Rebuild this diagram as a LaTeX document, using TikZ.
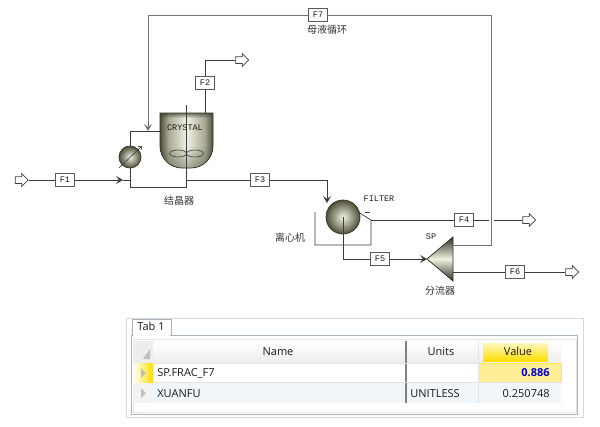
\documentclass[tikz,border=0pt]{standalone}
\usepackage{xcolor}
\usepackage{fontspec}
\setmonofont{Liberation Mono}
\setsansfont{Open Sans}
\newfontfamily\cjk{Noto Sans CJK SC}
\usetikzlibrary{arrows.meta, positioning, shapes.arrows, fadings}
\definecolor{linegray}{HTML}{3C3C3C}
\definecolor{steel}{HTML}{4E4E3A}
\definecolor{cream}{HTML}{F2F2E2}
\definecolor{framegray}{HTML}{A9B4BE}
\definecolor{rowblue}{HTML}{F1F6FA}
\definecolor{headgray}{HTML}{EDEDED}
\definecolor{goldtop}{HTML}{FFF8C0}
\definecolor{goldlow}{HTML}{FFDE00}
\definecolor{goldcell}{HTML}{FFEE96}
\pgfdeclarehorizontalshading{vessel}{100bp}{color(0bp)=(steel); color(25bp)=(steel); color(33bp)=(steel!45!cream); color(50bp)=(cream); color(67bp)=(steel!45!cream); color(75bp)=(steel); color(100bp)=(steel)}
\begin{document}
\begin{tikzpicture}[
x=1pt, y=-1pt,
line width=0.75pt,
>={Stealth[length=7pt,width=8pt,inset=3pt]},
tag/.style={
draw=black!65,
fill=white,
font=\ttfamily\fontsize{8.5}{9}\selectfont,
text=black!90,
minimum width=19pt,
minimum height=13pt,
inner sep=0pt
},
port/.style={
draw=black!75,
fill=white,
single arrow,
minimum height=13pt,
single arrow head extend=3pt,
inner xsep=1pt,
inner ysep=3pt
},
ball/.style={
circle,
draw=steel!70!black,
inner color=cream,
outer color=steel,
inner sep=0pt
},
stream/.style={draw=linegray},
recycle/.style={draw=black!55, line width=1pt},
unitname/.style={font=\ttfamily\fontsize{8.5}{9}\selectfont, text=black!90},
hanzi/.style={font=\cjk\fontsize{10}{12}\selectfont, text=black!80},
cell/.style={font=\sffamily\fontsize{11}{13}\selectfont, text=black!90, inner sep=0pt}
]

\useasboundingbox (0,0) rectangle (600,426);

\node[port] (feed) at (20,180) {};

\node[tag] (F1) at (65,180) {F1};

\node[tag] (F2) at (205,83) {F2};

\node[tag] (F3) at (260,180) {F3};

\node[tag] (F4) at (464,220) {F4};

\node[tag] (F5) at (380,259) {F5};

\node[tag] (F6) at (515,272) {F6};

\node[tag] (F7) at (318,15) {F7};

\node[port] (vent) at (240.5,60) {};

\node[port] (out4) at (527.5,220) {};

\node[port] (out6) at (570.5,272) {};

\coordinate (crystaltop) at (205,113);
\coordinate (crystalleft) at (160,131);
\coordinate (crystalbot) at (186,168);
\coordinate (joint) at (148,131);
\coordinate (mixer) at (123,180);
\coordinate (mixend) at (130,180);
\coordinate (loopleft) at (130,187);
\coordinate (teeF3) at (186,180);
\coordinate (filterin) at (327,203);
\coordinate (filterout) at (371,220);
\coordinate (crossleft) at (489,220);
\coordinate (crossright) at (494,220);
\coordinate (spin) at (427,259);
\coordinate (spup) at (453,245);
\coordinate (splow) at (453,272);
\coordinate (bend) at (491,15);

\draw[stream] (crystaltop) -- (F2);
\draw[stream] (F2) |- (vent);

\draw[draw=steel!60!black, shading=vessel]
(160,113) -- (213,113) -- (213,146) arc[start angle=0, end angle=90, radius=22]
-- (182,168) arc[start angle=90, end angle=180, radius=22] -- cycle;
\fill[steel!80!black, path fading=south, opacity=0.7] (160,113) rectangle (213,118);
\fill[steel!80!black, path fading=north, opacity=0.4]
(160,146) -- (213,146) arc[start angle=0, end angle=90, radius=22]
-- (182,168) arc[start angle=90, end angle=180, radius=22] -- cycle;
\draw[linegray] (186,105) -- (crystalbot);
\draw[linegray, line width=0.6pt] (178,153.5) ellipse[x radius=8.5, y radius=3.5];
\draw[linegray, line width=0.6pt] (195,153.5) ellipse[x radius=8.5, y radius=3.5];
\node[unitname] (crystalname) at (185,128) {CRYSTAL};
\node[hanzi] (crystallabel) at (179,201) {结晶器};

\node[ball, minimum size=22pt] (hx) at (130,157) {};
\coordinate (hxlow) at (119,168);
\coordinate (hxhigh) at (142,146);
\draw[linegray, -{Straight Barb[length=3pt,width=5pt]}, line width=0.6pt] (hxlow) -- (hxhigh);

\draw[stream] (crystalleft) -- (joint);
\draw[stream] (joint) -| (hx);
\draw[stream] (hx) -- (mixend);
\draw[stream] (mixend) |- (loopleft) -- (loopleft -| crystalbot) -- (crystalbot);

\draw[stream] (feed) -- (F1);
\draw[stream, ->] (F1) -- (mixer);
\draw[stream] (mixer) -- (mixend);

\draw[stream] (teeF3) -- (F3);
\draw[stream, ->] (F3) -| (filterin);

\node[ball, minimum size=34pt] (filter) at (343,217) {};
\node[unitname] (filtername) at (379,199) {FILTER};
\node[hanzi] (filterlabel) at (290,238) {离心机};
\draw[stream] (315,212) -- (315,245) -- (371,245) -- (filterout) -- (358,212);
\draw[linegray] (365,212) -- (370,212);

\draw[stream] (filterout) -- (F4);
\draw[stream] (F4) -- (crossleft);
\draw[stream] (crossright) -- (out4);

\draw[stream] (filter.center) |- (F5);
\draw[stream, ->] (F5) -- (spin);

\draw[draw=steel!60!black, top color=steel!60!black, bottom color=steel!60!black, middle color=cream]
(spin) -- (453,237) -- (453,281) -- cycle;
\node[unitname] (spname) at (431,237) {SP};
\node[hanzi] (splabel) at (440,291) {分流器};

\draw[stream] (splow) -- (F6);
\draw[stream] (F6) -- (out6);

\draw[recycle] (spup) -| (bend) -- (F7);
\draw[recycle, ->] (F7) -| (joint);
\node[hanzi] (recyclelabel) at (327,30) {母液循环};

\draw[black!15] (126,318) rectangle (583,417);
\fill[white] (127,319) rectangle (582,416);
\draw[framegray, line width=1pt] (131,335) rectangle (577,414);
\draw[black!10] (133,339) rectangle (576,412);
\draw[framegray, fill=white, line width=0.8pt] (132,335) -- (132,319) -- (171,319) -- (171,335);
\fill[white] (133,333) rectangle (170,337);
\node[cell] (tab) at (151,326) {Tab 1};

\shade[top color=white, bottom color=headgray] (133,341) rectangle (561,363);
\fill[headgray] (133,341) rectangle (153,382);
\fill[rowblue] (153,382) rectangle (561,403);
\fill[headgray!70] (133,382) rectangle (153,403);
\shade[left color=white, right color=goldlow] (133,363) rectangle (153,382);
\fill[goldcell] (478,363) rectangle (561,382);
\draw[goldlow!70!white] (478,363) rectangle (561,382);
\shade[top color=goldtop, bottom color=goldlow] (483,343) rectangle (548,361);
\fill[black!25] (150,349) -- (150,359) -- (143,359) -- cycle;
\fill[black!25] (141,368) -- (146,373) -- (141,378) -- cycle;
\fill[black!25] (141,388) -- (146,393) -- (141,398) -- cycle;
\draw[black!50, line width=1.2pt] (406,341) -- (406,403);
\draw[black!10] (153,363) -- (478,363) (153,382) -- (561,382) (478,341) -- (478,403);

\node[cell, anchor=base] (namehead) at (278,355) {Name};

\node[cell, anchor=base] (unithead) at (441,355) {Units};

\node[cell, anchor=base] (valuehead) at (518,355) {Value};

\node[cell, anchor=base west] (fracname) at (157,376) {SP.FRAC\_F7};

\node[cell, anchor=base east, text=blue!85!black, font=\sffamily\bfseries\fontsize{11}{13}\selectfont] (fracvalue) at (550,376) {0.886};

\node[cell, anchor=base west] (xuanname) at (157,397) {XUANFU};

\node[cell, anchor=base west] (xuanunit) at (410,397) {UNITLESS};

\node[cell, anchor=base east] (xuanvalue) at (550,397) {0.250748};

\end{tikzpicture}
\end{document}
